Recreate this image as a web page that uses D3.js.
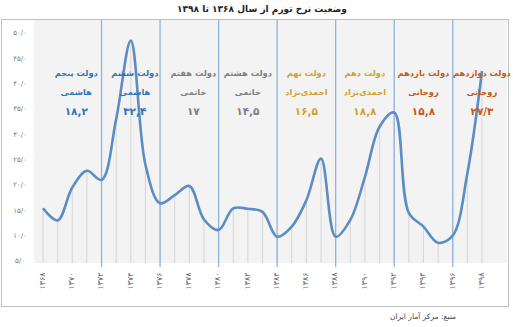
<!DOCTYPE html>
<html><head><meta charset="utf-8">
<script src="https://cdn.jsdelivr.net/npm/d3@7"></script>
<style>body{margin:0;background:#fff}svg{display:block;font-family:"DejaVu Sans",sans-serif}</style>
</head><body><svg id="c" width="513" height="327"></svg>
<script>
const years = d3.range(1368, 1399);
const inflation = [15.4,13.0,19.5,22.8,21.0,33.0,48.5,24.0,16.4,18.0,19.8,13.2,11.1,15.4,15.3,14.7,9.8,11.8,17.0,25.2,9.8,13.1,21.6,31.5,34.3,14.5,11.8,8.6,10.0,22.3,42.5];
const govStarts = [1368,1372,1376,1380,1384,1388,1392,1396];
const govNames = ["دولت پنجم","دولت ششم","دولت هفتم","دولت هشتم","دولت نهم","دولت دهم","دولت یازدهم","دولت دوازدهم"];
const govPresidents = ["هاشمی","هاشمی","خاتمی","خاتمی","احمدی‌نژاد","احمدی‌نژاد","روحانی","روحانی"];
const govAverages = ["۱۸,۲","۳۲,۴","۱۷","۱۴,۵","۱۶,۵","۱۸,۸","۱۵,۸","۲۷/۳"];
const govColors = ["#2f74b5","#2f74b5","#7f7f7f","#7f7f7f","#d1a12c","#d1a12c","#c55a11","#c55a11"];
const dividerYears = [1372,1376,1380,1384,1388,1392,1396];
const yTicks = [5,10,15,20,25,30,35,40,45,50];
const xTickYears = d3.range(1368, 1399, 2);
const title = "وضعیت نرخ تورم از سال ۱۳۶۸ تا ۱۳۹۸";
const source = "منبع: مرکز آمار ایران";

const fa = s => String(s).replace(/[0-9]/g, d => "۰۱۲۳۴۵۶۷۸۹"[d]);
const svg = d3.select("#c");
const x = d3.scaleLinear().domain([1368,1398]).range([43,482]);
const y = d3.scaleLinear().domain([5,50]).range([261,33]);
const plot = {l:34, t:20, r:507, b:263};

svg.append("rect").attr("x",1.5).attr("y",19.5).attr("width",507).attr("height",287)
  .attr("fill","#fff").attr("stroke","#bfbfbf");
svg.append("rect").attr("x",plot.l).attr("y",plot.t).attr("width",plot.r-plot.l).attr("height",plot.b-plot.t)
  .attr("fill","#f3f3f3");

svg.append("text").attr("x",262).attr("y",12).attr("text-anchor","middle").attr("direction","rtl")
  .attr("font-size",9).attr("font-weight","bold").attr("fill","#222").text(title);

svg.append("g").selectAll("line").data(years).join("line")
  .attr("x1",d=>x(d)).attr("x2",d=>x(d))
  .attr("y1",(d,i)=>y(inflation[i])).attr("y2",plot.b)
  .attr("stroke","#d6d6d6").attr("stroke-width",1);

svg.append("g").selectAll("line").data(dividerYears).join("line")
  .attr("x1",d=>x(d)).attr("x2",d=>x(d)).attr("y1",plot.t).attr("y2",plot.b+4)
  .attr("stroke","#8db4dc").attr("stroke-width",1.3);

svg.append("g").selectAll("text").data(yTicks).join("text")
  .attr("x",20).attr("y",d=>y(d)).attr("dy","0.35em").attr("text-anchor","middle")
  .attr("font-size",7).attr("fill","#7a7a7a")
  .text(d=>fa(d3.format(".1f")(d)).replace(".","/"));

svg.append("g").selectAll("text").data(xTickYears).join("text")
  .attr("transform",d=>`translate(${x(d)-1},281) rotate(-90)`)
  .attr("text-anchor","middle").attr("dy","0.35em")
  .attr("font-size",8).attr("fill","#666").text(d=>fa(d));

const line = d3.line().x((d,i)=>x(years[i])).y(d=>y(d)).curve(d3.curveCatmullRom.alpha(0.5));
svg.append("path").datum(inflation).attr("d",line).attr("fill","none")
  .attr("stroke","#5b8dc4").attr("stroke-width",2.6).attr("stroke-linejoin","round");

const g = svg.append("g").attr("font-weight","bold").attr("text-anchor","middle");
govStarts.forEach((s,i)=>{
  const cx = x(s+2) + (i<3?4:0);
  const c = govColors[i];
  g.append("text").attr("x",cx).attr("y",76).attr("font-size",8.3).attr("fill",c).attr("direction","rtl").text(govNames[i]);
  g.append("text").attr("x",cx).attr("y",95).attr("font-size",8.3).attr("fill",c).attr("direction","rtl").text(govPresidents[i]);
  g.append("text").attr("x",cx).attr("y",115).attr("font-size",10.5).attr("fill",c).text(govAverages[i]);
});

svg.append("text").attr("x",456).attr("y",319).attr("text-anchor","start").attr("direction","rtl")
  .attr("font-size",7.5).attr("fill","#444").text(source);
</script></body></html>
